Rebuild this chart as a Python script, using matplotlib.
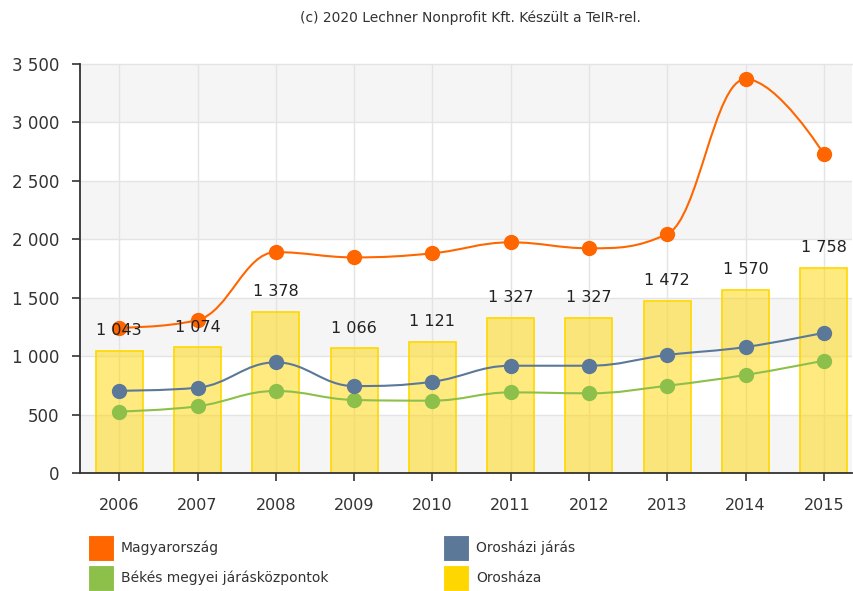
import matplotlib
matplotlib.use("Agg")
import matplotlib.pyplot as plt
import numpy as np
from matplotlib.path import Path
from matplotlib.patches import PathPatch, Rectangle

years = ["2006", "2007", "2008", "2009", "2010", "2011", "2012", "2013", "2014", "2015"]
oroshaza = [1043, 1074, 1378, 1066, 1121, 1327, 1327, 1472, 1570, 1758]
magyarorszag = [1243, 1309, 1890, 1845, 1880, 1974, 1923, 2045, 3371, 2730]
oroshazi_jaras = [704, 730, 947, 744, 781, 918, 918, 1010, 1078, 1200]
bekes_jk = [526, 571, 702, 625, 619, 690, 682, 747, 839, 961]

C_ORANGE = "#ff6600"
C_BLUE = "#5b7899"
C_GREEN = "#8dc04a"
C_YELLOW = "#ffd700"


def fmt(v):
    return f"{v:,}".replace(",", " ")


def spline_path(xs, ys, smoothing=1.5):
    # highcharts-like spline through the data points
    n = len(xs)
    lc = [(x, y) for x, y in zip(xs, ys)]
    rc = [(x, y) for x, y in zip(xs, ys)]
    d = smoothing + 1
    for i in range(1, n - 1):
        x, y = xs[i], ys[i]
        lx = (smoothing * x + xs[i - 1]) / d
        ly = (smoothing * y + ys[i - 1]) / d
        rx = (smoothing * x + xs[i + 1]) / d
        ry = (smoothing * y + ys[i + 1]) / d
        corr = (ry - ly) * (rx - x) / (rx - lx) + y - ry
        ly += corr
        ry += corr
        if ly > ys[i - 1] and ly > y:
            ly = max(ys[i - 1], y)
            ry = 2 * y - ly
        elif ly < ys[i - 1] and ly < y:
            ly = min(ys[i - 1], y)
            ry = 2 * y - ly
        if ry > ys[i + 1] and ry > y:
            ry = max(ys[i + 1], y)
            ly = 2 * y - ry
        elif ry < ys[i + 1] and ry < y:
            ry = min(ys[i + 1], y)
            ly = 2 * y - ry
        lc[i] = (lx, ly)
        rc[i] = (rx, ry)
    verts = [(xs[0], ys[0])]
    codes = [Path.MOVETO]
    for i in range(1, n):
        verts += [rc[i - 1], lc[i], (xs[i], ys[i])]
        codes += [Path.CURVE4] * 3
    return Path(verts, codes)


plt.rcParams["font.family"] = ["DejaVu Sans"]

fig = plt.figure(figsize=(8.54, 5.91), dpi=100)
ax = fig.add_axes([80 / 854, 118 / 591, 772 / 854, 409 / 591])

x = np.arange(len(years))
ax.set_xlim(-0.502, 9.36)
ax.set_ylim(0, 3500)

# alternating bands
for lo in range(0, 3500, 1000):
    ax.axhspan(lo, lo + 500, color="#f5f5f5", zorder=0, lw=0)
for v in range(500, 3500, 500):
    ax.axhline(v, color="#e4e4e4", lw=1, zorder=0.5)
ax.axhline(3500, color="#e4e4e4", lw=1, zorder=0.5, clip_on=False)
for xi in x:
    ax.axvline(xi, color="#e4e4e4", lw=1, zorder=0.5)

ax.bar(x, oroshaza, width=0.6, color=C_YELLOW, alpha=0.5, lw=0, zorder=1)
ax.bar(x, oroshaza, width=0.6, fill=False, edgecolor=C_YELLOW, lw=1.2, zorder=1.1)
for xi, v in zip(x, oroshaza):
    ax.annotate(fmt(v), (xi, v), xytext=(0, 14.5), textcoords="offset points",
                ha="center", va="center", fontsize=11.5, color="#222222", zorder=5)

for vals, col in [(bekes_jk, C_GREEN), (oroshazi_jaras, C_BLUE), (magyarorszag, C_ORANGE)]:
    ax.add_patch(PathPatch(spline_path(list(x), vals), fill=False, edgecolor=col,
                           lw=1.5, zorder=3))
    ax.plot(x, vals, ls="none", marker="o", ms=10, color=col, mec=col, zorder=4)

for s in ["top", "right"]:
    ax.spines[s].set_visible(False)
for s in ["left", "bottom"]:
    ax.spines[s].set_color("#333333")
    ax.spines[s].set_linewidth(1.3)
    ax.spines[s].set_zorder(6)

ax.set_xticks(x)
ax.set_xticklabels(years)
ax.set_yticks(range(0, 3501, 500))
ax.set_yticklabels([fmt(v) for v in range(0, 3501, 500)])
ax.tick_params(axis="x", length=6, width=1.2, color="#333333", pad=12,
               labelsize=11.5, labelcolor="#333333")
ax.tick_params(axis="y", length=6, width=1.2, color="#333333", pad=9,
               labelsize=12, labelcolor="#333333")

fig.text(470 / 854, 1 - 18 / 591, "(c) 2020 Lechner Nonprofit Kft. Készült a TeIR-rel.",
         ha="center", va="center", fontsize=10, color="#333333")

legend_items = [
    ("Magyarország", C_ORANGE, 88, 548),
    ("Orosházi járás", C_BLUE, 443, 548),
    ("Békés megyei járásközpontok", C_GREEN, 88, 578),
    ("Orosháza", C_YELLOW, 443, 578),
]
for label, col, px, py in legend_items:
    fig.patches.append(Rectangle((px / 854, 1 - (py + 13) / 591), 26 / 854, 26 / 591,
                                 transform=fig.transFigure, facecolor=col,
                                 edgecolor="white", lw=0.8))
    fig.text((px + 33) / 854, 1 - py / 591, label, ha="left", va="center",
             fontsize=10, color="#333333")

fig.savefig("out.png", dpi=100)
